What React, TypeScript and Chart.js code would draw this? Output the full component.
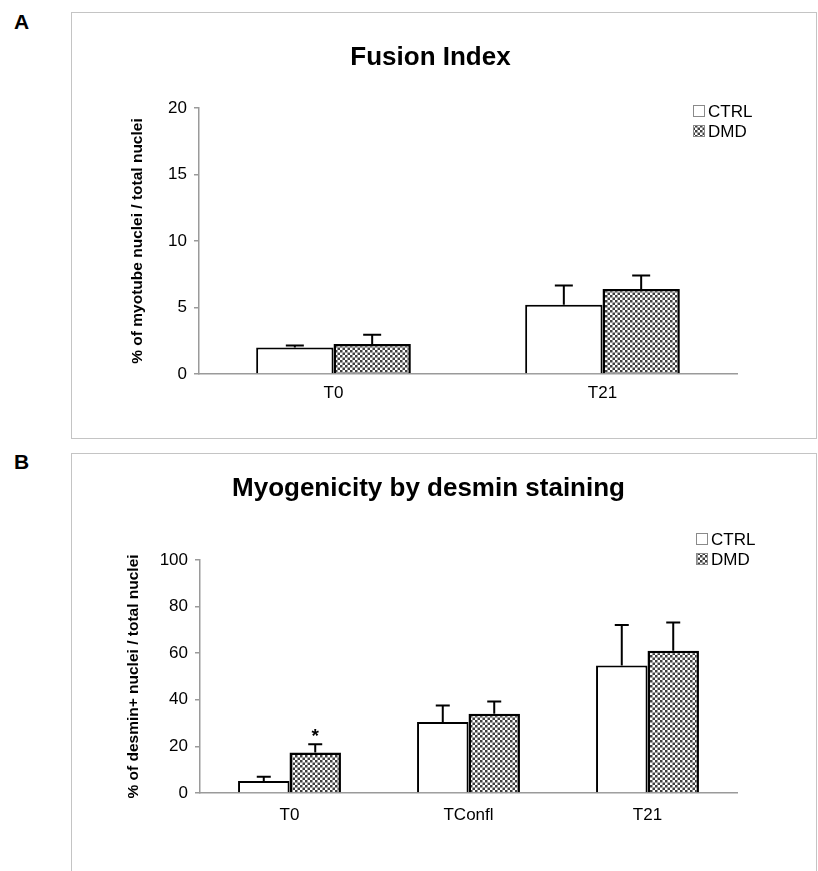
import React, { useEffect, useRef } from "react";
import { Chart, registerables } from "chart.js";

Chart.register(...registerables);

// ---------- data ----------
const seriesNames = ["CTRL", "DMD"];

const fusionCategories = ["T0", "T21"];
const fusionCtrl = [2.0, 5.2];
const fusionCtrlErr = [0.15, 1.45];
const fusionDmd = [2.25, 6.4];
const fusionDmdErr = [0.7, 1.0];
const fusionMarks = ["", ""];
const fusionTickValues = [0, 5, 10, 15, 20];

const desminCategories = ["T0", "TConfl", "T21"];
const desminCtrl = [5.1, 30.5, 54.7];
const desminCtrlErr = [1.9, 7.1, 17.4];
const desminDmd = [17.4, 34.0, 61.1];
const desminDmdErr = [3.5, 5.3, 12.1];
const desminMarks = ["*", "", ""];
const desminTickValues = [0, 20, 40, 60, 80, 100];

const FONT = "'Liberation Sans', Arial, Helvetica, sans-serif";

function makePattern(ctx: CanvasRenderingContext2D) {
  const c = document.createElement("canvas");
  c.width = 10;
  c.height = 10;
  const p = c.getContext("2d")!;
  p.fillStyle = "#ffffff";
  p.fillRect(0, 0, 10, 10);
  p.fillStyle = "#3f3f3f";
  for (let i = 0; i < 4; i++) {
    for (let j = 0; j < 4; j++) {
      if ((i + j) % 2 === 0) p.fillRect(i * 2.5, j * 2.5, 2.5, 2.5);
    }
  }
  return ctx.createPattern(c, "repeat")!;
}

type PanelProps = {
  top: number;
  height: number;
  title: string;
  yTitle: string;
  categories: string[];
  ctrl: number[];
  ctrlErr: number[];
  dmd: number[];
  dmdErr: number[];
  marks: string[];
  tickValues: number[];
  layout: {
    left: number;
    right: number;
    bottom: number;
    yWidth: number;
    xHeight: number;
    titleTop: number;
    titleBottom: number;
    xPad: number;
    cap: number;
    legendDx: number;
    legendDy: number;
  };
};

function Panel(props: PanelProps) {
  const ref = useRef<HTMLCanvasElement | null>(null);
  useEffect(() => {
    const canvas = ref.current!;
    const ctx = canvas.getContext("2d")!;
    const pattern = makePattern(ctx);
    const L = props.layout;

    const errorBars = {
      id: "errorBars",
      afterDatasetsDraw(chart: any) {
        const c = chart.ctx;
        const yScale = chart.scales.y;
        c.save();
        chart.data.datasets.forEach((ds: any, i: number) => {
          const meta = chart.getDatasetMeta(i);
          meta.data.forEach((bar: any, j: number) => {
            const v = ds.data[j];
            const e = ds.errors[j];
            const yTop = yScale.getPixelForValue(v + e);
            c.strokeStyle = "#000";
            c.lineWidth = 2;
            c.beginPath();
            c.moveTo(bar.x, bar.y);
            c.lineTo(bar.x, yTop);
            c.moveTo(bar.x - L.cap / 2, yTop);
            c.lineTo(bar.x + L.cap / 2, yTop);
            c.stroke();
            const m = ds.marks[j];
            if (m) {
              c.fillStyle = "#000";
              c.font = `bold 19px ${FONT}`;
              c.textAlign = "center";
              c.textBaseline = "alphabetic";
              c.fillText(m, bar.x, yTop - 2);
            }
          });
        });
        c.restore();
      },
    };

    const legendBox = {
      id: "legendBox",
      afterDraw(chart: any) {
        const c = chart.ctx;
        const area = chart.chartArea;
        const x = area.right + L.legendDx;
        c.save();
        chart.data.datasets.forEach((ds: any, i: number) => {
          const y = area.top + L.legendDy + i * 20;
          const s = 12;
          c.fillStyle = ds.backgroundColor;
          c.fillRect(x, y - s / 2, s, s);
          c.strokeStyle = "#8a8a8a";
          c.lineWidth = 1;
          c.strokeRect(x + 0.5, y - s / 2 + 0.5, s - 1, s - 1);
          c.fillStyle = "#000";
          c.font = `17px ${FONT}`;
          c.textAlign = "left";
          c.textBaseline = "middle";
          c.fillText(ds.label, x + 15, y + 1);
        });
        c.restore();
      },
    };

    const tv = props.tickValues;
    const chart = new Chart(ctx, {
      type: "bar",
      data: {
        labels: props.categories,
        datasets: [
          {
            label: seriesNames[0],
            data: props.ctrl,
            backgroundColor: "#ffffff",
            borderColor: "#000000",
            borderWidth: 2,
            borderSkipped: "bottom",
            errors: props.ctrlErr,
            marks: props.categories.map(() => ""),
          } as any,
          {
            label: seriesNames[1],
            data: props.dmd,
            backgroundColor: pattern,
            borderColor: "#000000",
            borderWidth: 2.5,
            borderSkipped: "bottom",
            errors: props.dmdErr,
            marks: props.marks,
          } as any,
        ],
      },
      options: {
        animation: false,
        responsive: false,
        maintainAspectRatio: false,
        devicePixelRatio: 1,
        layout: {
          padding: { left: L.left, right: L.right, top: 0, bottom: L.bottom },
        },
        datasets: {
          bar: { barPercentage: 1, categoryPercentage: 0.575 },
        },
        plugins: {
          legend: { display: false },
          tooltip: { enabled: false },
          title: {
            display: true,
            text: props.title,
            color: "#000",
            font: { family: FONT, size: 26, weight: "bold" },
            padding: { top: L.titleTop, bottom: L.titleBottom },
          },
        },
        scales: {
          x: {
            grid: { display: false, drawTicks: false },
            border: { display: true, color: "#9a9a9a", width: 1.5 },
            ticks: {
              color: "#000",
              font: { family: FONT, size: 17 },
              padding: L.xPad,
            },
            afterFit: (s: any) => {
              s.height = L.xHeight;
            },
          },
          y: {
            min: tv[0],
            max: tv[tv.length - 1],
            ticks: {
              stepSize: tv[1] - tv[0],
              color: "#000",
              font: { family: FONT, size: 17 },
              padding: 7,
            },
            grid: {
              drawOnChartArea: false,
              drawTicks: true,
              tickLength: 5,
              color: "#9a9a9a",
              lineWidth: 1.5,
            },
            border: { display: true, color: "#9a9a9a", width: 1.5 },
            title: {
              display: true,
              text: props.yTitle,
              color: "#000",
              font: { family: FONT, size: 15.5, weight: "bold" },
              padding: { top: 4, bottom: 0 },
            },
            afterFit: (s: any) => {
              s.width = L.yWidth;
            },
          },
        },
      } as any,
      plugins: [errorBars, legendBox],
    });
    return () => chart.destroy();
  }, []);

  return (
    <canvas
      ref={ref}
      width={818}
      height={props.height}
      style={{
        position: "absolute",
        left: 0,
        top: props.top,
        width: 818,
        height: props.height,
      }}
    />
  );
}

export default function App() {
  return (
    <div
      style={{
        position: "absolute",
        left: 0,
        top: 0,
        width: 818,
        height: 871,
        overflow: "hidden",
        background: "#fff",
        fontFamily: FONT,
      }}
    >
      <div
        style={{
          position: "absolute",
          left: 71,
          top: 12,
          width: 818 - 71 - 3,
          height: 437 - 12,
          border: "1.5px solid #c4c4c4",
        }}
      />
      <div
        style={{
          position: "absolute",
          left: 71,
          top: 453,
          width: 818 - 71 - 3,
          height: 500,
          border: "1.5px solid #c4c4c4",
        }}
      />
      <div
        style={{
          position: "absolute",
          left: 14,
          top: 12,
          fontSize: 21,
          lineHeight: "20px",
          fontWeight: "bold",
        }}
      >
        A
      </div>
      <div
        style={{
          position: "absolute",
          left: 14,
          top: 452,
          fontSize: 21,
          lineHeight: "20px",
          fontWeight: "bold",
        }}
      >
        B
      </div>
      <Panel
        top={0}
        height={440}
        title="Fusion Index"
        yTitle="% of myotube nuclei / total nuclei"
        categories={fusionCategories}
        ctrl={fusionCtrl}
        ctrlErr={fusionCtrlErr}
        dmd={fusionDmd}
        dmdErr={fusionDmdErr}
        marks={fusionMarks}
        tickValues={fusionTickValues}
        layout={{
          left: 124,
          right: 81,
          bottom: 26,
          yWidth: 75,
          xHeight: 40,
          titleTop: 42.4,
          titleBottom: 34.4,
          xPad: 9.4,
          cap: 18,
          legendDx: -44,
          legendDy: 3,
        }}
      />
      <Panel
        top={440}
        height={431}
        title="Myogenicity by desmin staining"
        yTitle="% of desmin+ nuclei / total nuclei"
        categories={desminCategories}
        ctrl={desminCtrl}
        ctrlErr={desminCtrlErr}
        dmd={desminDmd}
        dmdErr={desminDmdErr}
        marks={desminMarks}
        tickValues={desminTickValues}
        layout={{
          left: 120,
          right: 81,
          bottom: 38,
          yWidth: 80,
          xHeight: 40,
          titleTop: 33.7,
          titleBottom: 55.1,
          xPad: 12.4,
          cap: 14,
          legendDx: -41,
          legendDy: -21,
        }}
      />
    </div>
  );
}
